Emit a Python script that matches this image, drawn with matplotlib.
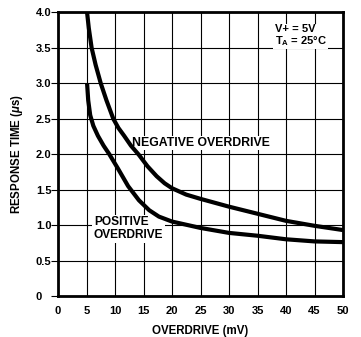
import matplotlib
matplotlib.use("Agg")
import matplotlib.pyplot as plt

plt.rcParams['font.family'] = ['Liberation Sans', 'DejaVu Sans']
plt.rcParams['mathtext.fontset'] = 'custom'
plt.rcParams['mathtext.rm'] = 'Liberation Sans:bold'
plt.rcParams['mathtext.bf'] = 'Liberation Sans:bold'
plt.rcParams['mathtext.it'] = 'Liberation Sans:bold:italic'

# Response time vs. input overdrive (V+ = 5V, TA = 25°C)
neg_overdrive_mv = [5.1, 5.4, 5.9, 6.6, 7.5, 8.5, 9.7, 10.6, 11.6, 12.8, 14.2,
                    15.7, 17.3, 18.7, 20.0, 22.5, 25.0, 30.0, 35.0, 40.0, 45.0, 50.0]
neg_response_us = [4.0, 3.78, 3.5, 3.26, 3.0, 2.76, 2.5, 2.37, 2.26, 2.12, 1.99,
                   1.83, 1.69, 1.59, 1.52, 1.43, 1.37, 1.26, 1.16, 1.06, 0.99, 0.93]

pos_overdrive_mv = [5.1, 5.3, 5.65, 6.2, 7.0, 8.0, 9.0, 10.5, 12.3, 14.2, 16.0,
                    17.7, 20.0, 25.0, 30.0, 35.0, 40.0, 45.0, 50.0]
pos_response_us = [3.0, 2.76, 2.55, 2.4, 2.26, 2.12, 2.0, 1.8, 1.55, 1.35, 1.21,
                   1.12, 1.05, 0.96, 0.89, 0.85, 0.80, 0.77, 0.76]

x_ticks = [0, 5, 10, 15, 20, 25, 30, 35, 40, 45, 50]
x_tick_labels = ["0", "5", "10", "15", "20", "25", "30", "35", "40", "45", "50"]
y_ticks = [0, 0.5, 1.0, 1.5, 2.0, 2.5, 3.0, 3.5, 4.0]
y_tick_labels = ["0", "0.5", "1.0", "1.5", "2.0", "2.5", "3.0", "3.5", "4.0"]

fig = plt.figure(figsize=(3.61, 3.37), dpi=100)
ax = fig.add_axes([58 / 361, 1 - 296 / 337, 285 / 361, 283.6 / 337])

ax.plot(neg_overdrive_mv, neg_response_us, color='black', lw=3.0,
        solid_capstyle='butt', solid_joinstyle='round', zorder=3)
ax.plot(pos_overdrive_mv, pos_response_us, color='black', lw=3.0,
        solid_capstyle='butt', solid_joinstyle='round', zorder=3)

ax.set_xlim(0, 50)
ax.set_ylim(0, 4.0)
ax.set_xticks(x_ticks)
ax.set_xticklabels(x_tick_labels, fontsize=8, fontweight='bold')
ax.set_yticks(y_ticks)
ax.set_yticklabels(y_tick_labels, fontsize=8, fontweight='bold')
for lbl in ax.get_yticklabels():
    lbl.set_horizontalalignment('left')

ax.tick_params(axis='x', length=0, pad=7)
ax.tick_params(axis='y', direction='out', length=5, width=0.8, pad=11)

ax.grid(True, color='black', lw=0.8, zorder=1)
ax.set_axisbelow(True)
for s in ax.spines.values():
    s.set_linewidth(2.0)
    s.set_zorder(4)

ax.set_xlabel("OVERDRIVE (mV)", fontsize=8.3, fontweight='bold', labelpad=7)
ax.set_ylabel(r"RESPONSE TIME ($\mathit{\mu}$s)", fontsize=8.3,
              fontweight='bold')
ax.yaxis.set_label_coords(-0.115, 0.5)

box = dict(facecolor='white', edgecolor='none', pad=1.0)
ax.text(13.0, 2.16, "NEGATIVE OVERDRIVE", fontsize=8.8, fontweight='bold',
        ha='left', va='center', bbox=box, zorder=2)
ax.text(6.3, 0.95, "POSITIVE\nOVERDRIVE", fontsize=8.6, fontweight='bold',
        ha='left', va='center', linespacing=1.1, bbox=box, zorder=2)
ax.text(38.0, 3.67, "V+ = 5V\nT$_{\\mathrm{A}}$ = 25°C", fontsize=8,
        fontweight='bold', ha='left', va='center', linespacing=1.0,
        bbox=box, zorder=2)

fig.savefig("out.png", dpi=100)
